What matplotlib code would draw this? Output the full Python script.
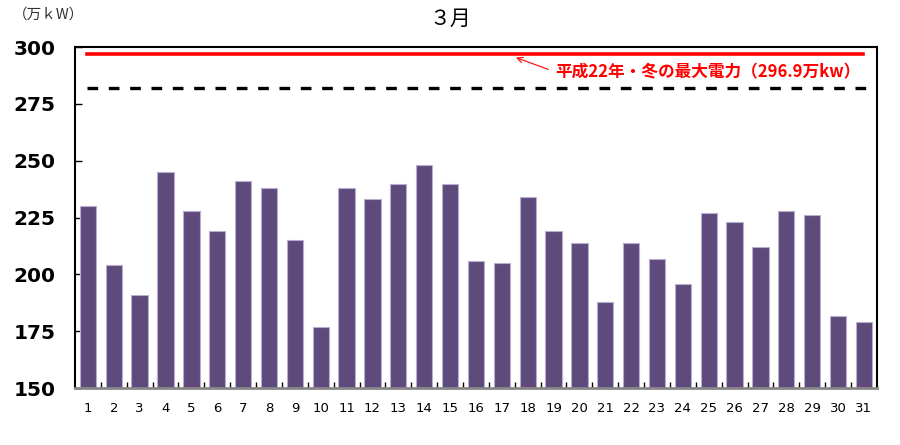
import numpy as np
import matplotlib.pyplot as plt

plt.rcParams['font.family'] = ['Noto Sans CJK JP', 'DejaVu Sans']

# daily peak demand, March (万kW)
days = list(range(1, 32))
peak = [230, 204, 191, 245, 228, 219, 241, 238, 215, 177, 238, 233, 240, 248, 240, 206,
        205, 234, 219, 214, 188, 214, 207, 196, 227, 223, 212, 228, 226, 181.5, 179]
record = 296.9   # 平成22年 winter max
supply = 282     # dashed reference line

fig = plt.figure(figsize=(9, 4.45), dpi=100)
ax = fig.add_axes([0.0833, 0.128, 0.891, 0.766])

ax.bar(days, np.array(peak) - 150, bottom=150, width=0.63,
       color='#5e4a7b', edgecolor='#b9aed0', linewidth=0.8, zorder=2)

ax.plot([0.98, 30.95], [record, record], color='#ff0000', lw=2.6, zorder=3)
ax.plot([0.98, 31.1], [supply, supply], color='black', lw=2.4,
        dashes=(3.2, 3.2), zorder=3)

ax.annotate('', xy=(17.55, 295.4), xytext=(18.8, 290.2),
            arrowprops=dict(arrowstyle='->', color='#ff0000', lw=0.8,
                            shrinkA=0, shrinkB=0))
ax.text(19.05, 289.0, '平成22年・冬の最大電力（296.9万kw）', color='#ff0000',
        fontsize=12, fontweight='bold', va='center', ha='left')

ax.set_xlim(0.5, 31.5)
ax.set_ylim(150, 300)
ax.set_yticks([150, 175, 200, 225, 250, 275, 300])
ax.set_yticklabels(['150', '175', '200', '225', '250', '275', '300'],
                   fontsize=14.5, fontweight='bold', family='DejaVu Sans')
ax.set_xticks(days)
ax.set_xticklabels([str(d) for d in days], fontsize=9.5, family='DejaVu Sans')
ax.tick_params(axis='x', length=0, pad=10)
ax.set_xticks(np.arange(1.5, 31.5, 1), minor=True)
ax.tick_params(axis='x', which='minor', direction='in', length=4, width=1)
ax.tick_params(axis='y', direction='in', length=5, width=1, pad=14)

for s in ax.spines.values():
    s.set_linewidth(1.5)
ax.spines['bottom'].set_color('#888888')
ax.spines['bottom'].set_linewidth(2)

fig.text(0.5, 0.958, '３月', ha='center', va='center', fontsize=15)
fig.text(0.014, 0.968, '（万ｋW）', ha='left', va='center', fontsize=10.5, color='#333333')

fig.savefig('out.png', dpi=100)
